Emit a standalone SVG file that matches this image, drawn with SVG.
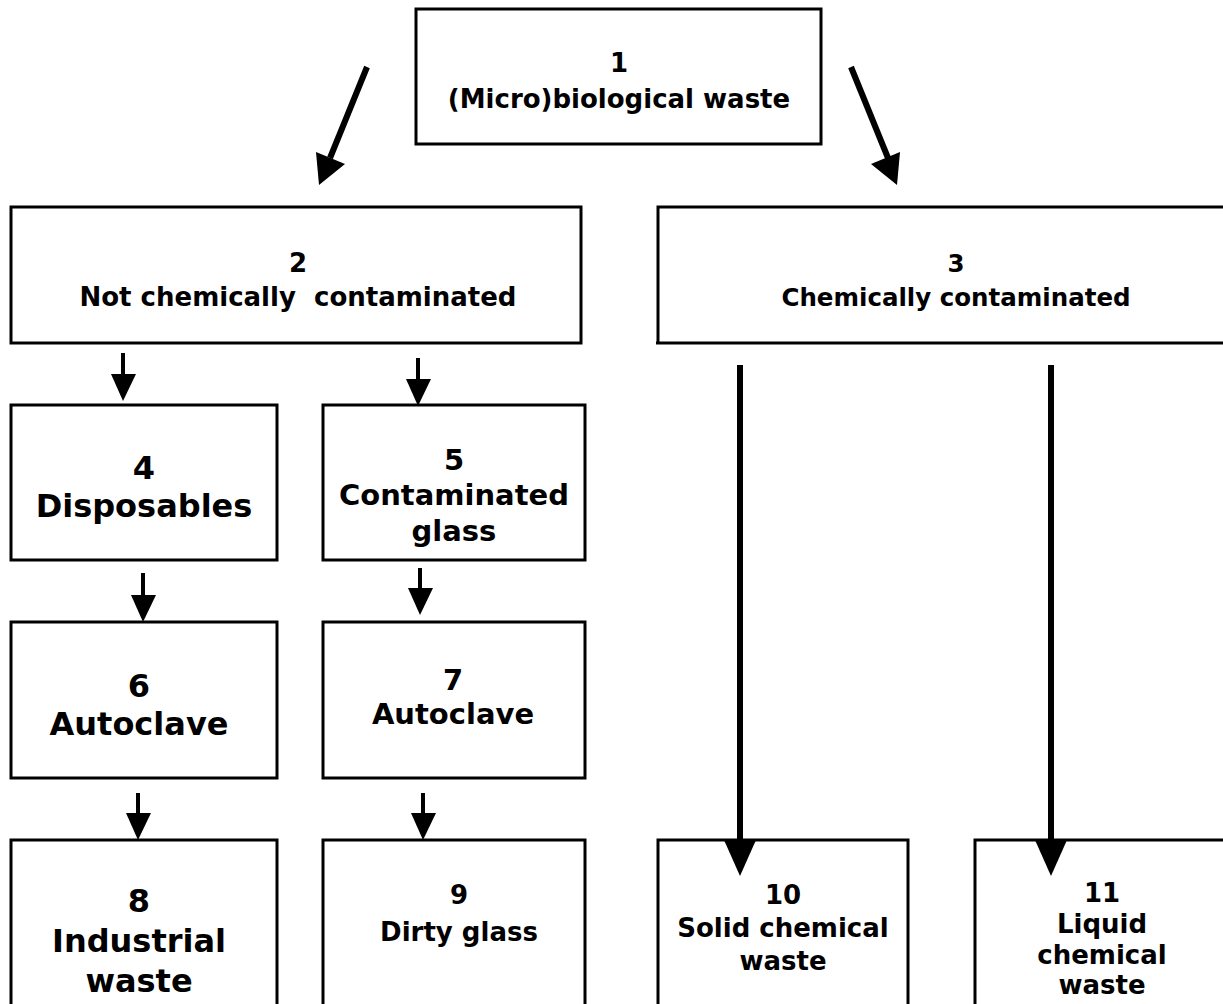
<svg xmlns="http://www.w3.org/2000/svg" width="1223" height="1004" viewBox="0 0 1223 1004">
<style>
.box{fill:#fff;stroke:#000;stroke-width:3}
.edge{fill:none;stroke:#000;stroke-width:3}
text{font-family:"DejaVu Sans","Verdana",sans-serif;font-weight:bold;fill:#000;text-anchor:middle;white-space:pre}
.a{font-size:26px}
.b{font-size:24.5px}
.c{font-size:26px}
.m{font-size:29px}
.l{font-size:32px}
.ln{stroke:#000;fill:none}
.hd{fill:#000;stroke:none}
</style>
<rect width="1223" height="1004" fill="#fff"/>
<g id="n1"><rect class="box" x="416" y="9" width="405" height="135"/>
<text class="a" x="619" y="72">1</text><text class="a" x="619" y="108">(Micro)biological waste</text></g>
<g id="n2"><rect class="box" x="11" y="207" width="570" height="136"/>
<text class="a" x="298" y="272">2</text><text class="a" x="298" y="306">Not chemically  contaminated</text></g>
<g id="n3"><path class="edge" d="M1225,207 H658 V343 M656,343 H1225"/>
<text class="b" x="956" y="272">3</text><text class="b" x="956" y="306">Chemically contaminated</text></g>
<g id="n4"><rect class="box" x="11" y="405" width="266" height="155"/>
<text class="l" x="144" y="479">4</text><text class="l" x="144" y="517">Disposables</text></g>
<g id="n5"><rect class="box" x="323" y="405" width="262" height="155"/>
<text class="m" x="454" y="470">5</text><text class="m" x="454" y="505">Contaminated</text><text class="m" x="454" y="541">glass</text></g>
<g id="n6"><rect class="box" x="11" y="622" width="266" height="156"/>
<text class="l" x="139" y="697">6</text><text class="l" x="139" y="735">Autoclave</text></g>
<g id="n7"><rect class="box" x="323" y="622" width="262" height="156"/>
<text class="m" x="453" y="690">7</text><text class="m" x="453" y="724">Autoclave</text></g>
<g id="n8"><rect class="box" x="11" y="840" width="266" height="170"/>
<text class="l" x="139" y="912">8</text><text class="l" x="139" y="952">Industrial</text><text class="l" x="139" y="992">waste</text></g>
<g id="n9"><rect class="box" x="323" y="840" width="262" height="170"/>
<text class="c" x="459" y="904">9</text><text class="c" x="459" y="941">Dirty glass</text></g>
<g id="n10"><rect class="box" x="658" y="840" width="250" height="170"/>
<text class="c" x="783" y="904">10</text><text class="c" x="783" y="937">Solid chemical</text><text class="c" x="783" y="970">waste</text></g>
<g id="n11"><path class="edge" d="M975,1010 V840 H1225"/>
<text class="c" x="1102" y="902">11</text><text class="c" x="1102" y="933">Liquid</text><text class="c" x="1102" y="964">chemical</text><text class="c" x="1102" y="994">waste</text></g>
<g id="connectors">
<line class="ln" x1="367" y1="67" x2="330" y2="158" stroke-width="6"/>
<polygon class="hd" points="319,185 316,152 345,164"/>
<line class="ln" x1="851" y1="67" x2="888" y2="158" stroke-width="6"/>
<polygon class="hd" points="897,185 871,164 900,152"/>
<line class="ln" x1="123" y1="353" x2="123" y2="378" stroke-width="4"/>
<polygon class="hd" points="111,374 136,374 123,401"/>
<line class="ln" x1="418" y1="358" x2="418" y2="383" stroke-width="4"/>
<polygon class="hd" points="406,379 431,379 418,406"/>
<line class="ln" x1="143" y1="573" x2="143" y2="598" stroke-width="4"/>
<polygon class="hd" points="131,595 156,595 143,622"/>
<line class="ln" x1="420" y1="568" x2="420" y2="592" stroke-width="4"/>
<polygon class="hd" points="408,588 433,588 420,615"/>
<line class="ln" x1="138" y1="793" x2="138" y2="816" stroke-width="4"/>
<polygon class="hd" points="126,813 151,813 138,840"/>
<line class="ln" x1="423" y1="793" x2="423" y2="816" stroke-width="4"/>
<polygon class="hd" points="411,813 436,813 423,840"/>
<line class="ln" x1="740" y1="365" x2="740" y2="845" stroke-width="6"/>
<polygon class="hd" points="724,840 756,840 740,876"/>
<line class="ln" x1="1051" y1="365" x2="1051" y2="845" stroke-width="6"/>
<polygon class="hd" points="1035,840 1067,840 1051,876"/>
</g>
</svg>
